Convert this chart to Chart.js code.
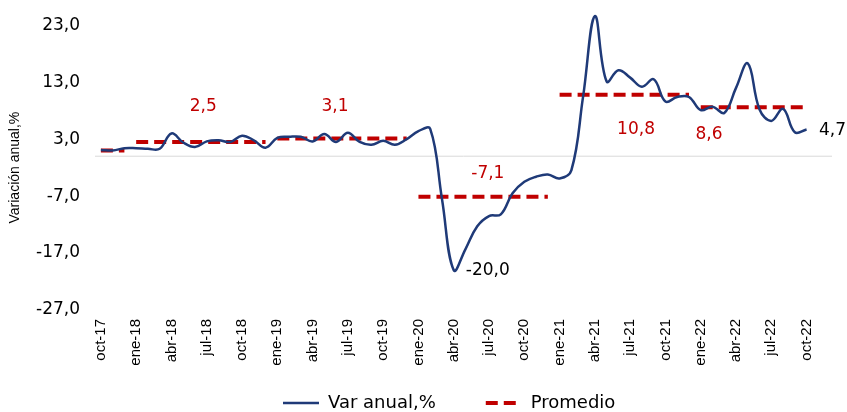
<!DOCTYPE html>
<html lang="es">
<head>
<meta charset="utf-8">
<script src="https://cdn.jsdelivr.net/npm/chart.js@4.4.0/dist/chart.umd.min.js"></script>
<style>
  html, body { margin: 0; padding: 0; background: #fff; }
  #wrap { width: 847px; height: 412px; }
</style>
</head>
<body>
<div id="wrap"><canvas id="varChart"></canvas></div>
<script>
// Meses del eje (oct-17 a dic-22, los dos ultimos sin dato)
const meses = [
  'oct-17', 'nov-17', 'dic-17',
  'ene-18', 'feb-18', 'mar-18', 'abr-18', 'may-18', 'jun-18', 'jul-18', 'ago-18', 'sep-18', 'oct-18', 'nov-18', 'dic-18',
  'ene-19', 'feb-19', 'mar-19', 'abr-19', 'may-19', 'jun-19', 'jul-19', 'ago-19', 'sep-19', 'oct-19', 'nov-19', 'dic-19',
  'ene-20', 'feb-20', 'mar-20', 'abr-20', 'may-20', 'jun-20', 'jul-20', 'ago-20', 'sep-20', 'oct-20', 'nov-20', 'dic-20',
  'ene-21', 'feb-21', 'mar-21', 'abr-21', 'may-21', 'jun-21', 'jul-21', 'ago-21', 'sep-21', 'oct-21', 'nov-21', 'dic-21',
  'ene-22', 'feb-22', 'mar-22', 'abr-22', 'may-22', 'jun-22', 'jul-22', 'ago-22', 'sep-22', 'oct-22', 'nov-22', 'dic-22'
];

// Variacion anual, %
const varAnual = [
  1.1, 1.0, 1.4,
  1.4, 1.3, 1.3, 4.0, 2.4, 1.6, 2.6, 2.8, 2.5, 3.6, 2.8, 1.5,
  3.2, 3.4, 3.4, 2.6, 3.9, 2.5, 4.1, 2.5, 2.0, 2.7, 2.0, 3.0,
  4.4, 4.8, -7.5, -20.0, -16.3, -12.3, -10.5, -10.2, -6.5, -4.5, -3.6, -3.2,
  -3.9, -2.5, 10.5, 24.6, 13.1, 15.1, 13.8, 12.2, 13.5, 9.6, 10.4, 10.4,
  8.1, 8.7, 7.6, 12.0, 16.3, 8.2, 6.2, 8.3, 4.2, 4.7
];

// Promedio por año
const anios = ['17', '18', '19', '20', '21', '22'];
const promedioAnual = [1.0, 2.5, 3.1, -7.1, 10.8, 8.6];

// Ticks del eje y
const ticksY = [-27, -17, -7, 3, 13, 23];

// Textos sobre el grafico: texto, posicion (indice de mes, valor)
const textos = [
  { texto: '2,5', mes: 8.7, valor: 8.8, color: '#C00000' },
  { texto: '3,1', mes: 19.9, valor: 8.8, color: '#C00000' },
  { texto: '-7,1', mes: 32.9, valor: -3.1, color: '#C00000' },
  { texto: '10,8', mes: 45.5, valor: 4.7, color: '#C00000' },
  { texto: '8,6', mes: 51.7, valor: 3.8, color: '#C00000' },
  { texto: '-20,0', mes: 32.9, valor: -20.1, color: '#000000' },
  { texto: '4,7', mes: 62.2, valor: 4.5, color: '#000000' }
];

const promedioMensual = varAnual.map(function(v, i) {
  const anio = meses[i].split('-')[1];
  return promedioAnual[anios.indexOf(anio)];
});

const fmt = v => v.toFixed(1).replace('.', ',');
const fuenteNum = '"DejaVu Sans", Verdana, sans-serif';
const fuenteTxt = '"Liberation Sans", Arial, sans-serif';

const textosPlugin = {
  id: 'textos',
  afterLayout(chart) {
    // leyenda: inicio y altura como en el original
    const lg = chart.legend;
    if (!lg.lineWidths) return;
    const pad = lg.options.labels.padding;
    const inicio = (lg.left + pad + lg.right - lg.lineWidths[0]) / 2;
    const d = 283 - inicio;
    lg.left += d;
    lg.right += d;
    lg.top = 403 - pad - 9;
  },
  beforeDatasetsDraw(chart) {
    const ctx = chart.ctx;
    const y0 = chart.scales.y.getPixelForValue(0);
    ctx.save();
    ctx.strokeStyle = '#d9d9d9';
    ctx.lineWidth = 1;
    ctx.beginPath();
    ctx.moveTo(chart.chartArea.left, y0);
    ctx.lineTo(chart.chartArea.right - 4, y0);
    ctx.stroke();
    ctx.restore();
  },
  afterDatasetsDraw(chart) {
    const ctx = chart.ctx;
    const x = chart.scales.x, y = chart.scales.y;
    ctx.save();
    ctx.font = '17px ' + fuenteNum;
    ctx.textAlign = 'center';
    ctx.textBaseline = 'middle';
    textos.forEach(function(t) {
      ctx.fillStyle = t.color;
      ctx.fillText(t.texto, x.getPixelForValue(t.mes), y.getPixelForValue(t.valor));
    });
    ctx.restore();
  }
};

const ctx = document.getElementById('varChart').getContext('2d');
const varChart = new Chart(ctx, {
  type: 'line',
  data: {
    labels: meses,
    datasets: [{
      label: 'Var anual,%',
      data: varAnual,
      borderColor: '#1F3A78',
      backgroundColor: '#1F3A78',
      borderWidth: 2.5,
      pointRadius: 0,
      pointStyle: 'line',
      tension: 0.4,
      clip: false
    }, {
      label: 'Promedio',
      data: promedioMensual,
      borderColor: '#C00000',
      backgroundColor: '#C00000',
      borderWidth: 4,
      borderDash: [12, 6],
      pointRadius: 0,
      pointStyle: 'line',
      tension: 0,
      segment: {
        borderColor: c => c.p0.parsed.y !== c.p1.parsed.y ? 'rgba(0,0,0,0)' : '#C00000'
      }
    }]
  },
  options: {
    responsive: true,
    maintainAspectRatio: false,
    animation: false,
    layout: { padding: { top: 21, right: 11, left: 0, bottom: 0 } },
    scales: {
      x: {
        offset: true,
        grid: { display: false, drawTicks: false },
        border: { display: false },
        ticks: {
          autoSkip: false,
          minRotation: 90,
          maxRotation: 90,
          padding: 9,
          color: '#000',
          font: { family: fuenteTxt, size: 15 },
          callback: function(v, i) { return i % 3 === 0 ? meses[i] : ''; }
        },
        afterFit: function(scale) {
          scale.height = 60;
          scale.paddingLeft = 0;
          scale.paddingRight = 0;
        }
      },
      y: {
        min: -27,
        max: 23,
        grid: { display: false, drawTicks: false },
        border: { display: false },
        afterBuildTicks: function(scale) { scale.ticks = ticksY.map(v => ({ value: v })); },
        ticks: {
          padding: 15,
          color: '#000',
          font: { family: fuenteNum, size: 17 },
          callback: v => fmt(v)
        },
        title: {
          display: true,
          text: 'Variación anual,%',
          color: '#000',
          padding: { top: 7, bottom: 0 },
          font: { family: fuenteTxt, size: 14 }
        },
        afterFit: function(scale) { scale.width = 95; }
      }
    },
    plugins: {
      legend: {
        position: 'bottom',
        maxHeight: 42,
        labels: {
          usePointStyle: true,
          pointStyleWidth: 36,
          padding: 50,
          color: '#000',
          font: { family: fuenteNum, size: 18 },
          generateLabels: function(chart) {
            const items = Chart.defaults.plugins.legend.labels.generateLabels(chart);
            items.forEach(function(it) {
              const ds = chart.data.datasets[it.datasetIndex];
              it.lineDash = ds.borderDash || [];
              it.lineWidth = ds.borderWidth;
              it.strokeStyle = ds.borderColor;
            });
            return items;
          }
        }
      },
      tooltip: { enabled: false }
    }
  },
  plugins: [textosPlugin]
});
</script>
</body>
</html>
